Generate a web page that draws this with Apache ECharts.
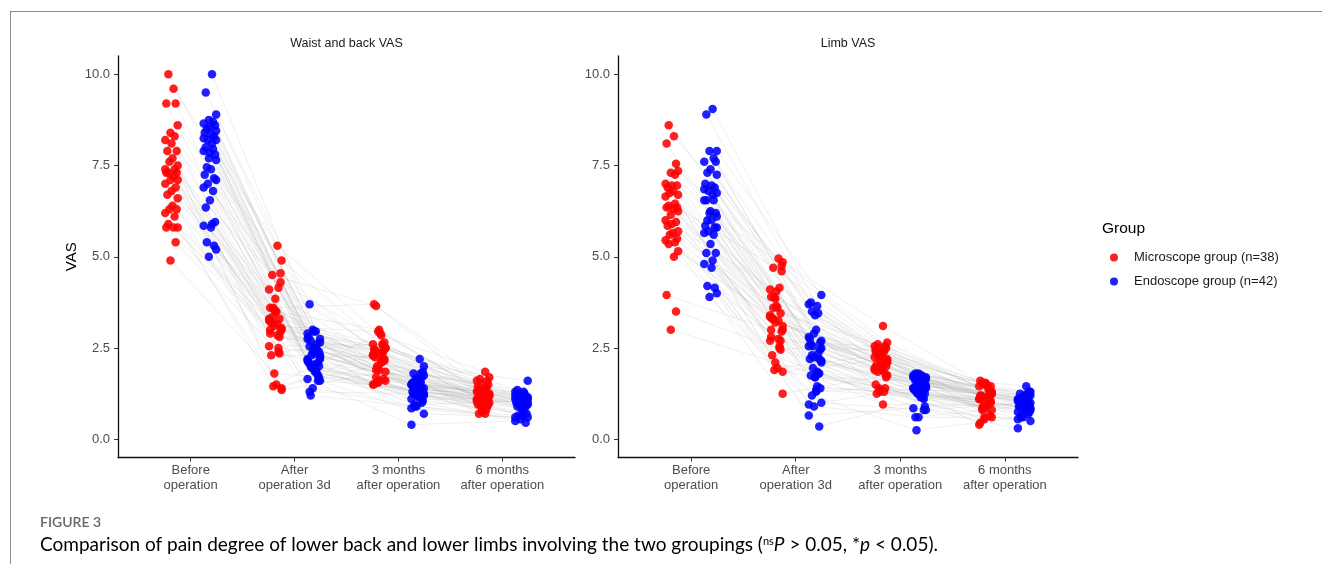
<!DOCTYPE html>
<html>
<head>
<meta charset="utf-8">
<script src="https://cdn.jsdelivr.net/npm/echarts@6/dist/echarts.min.js"></script>
<style>
html,body{margin:0;padding:0;background:#fff;}
#c{width:1322px;height:564px;position:absolute;left:0;top:0;}
#frame{position:absolute;left:10px;top:11px;right:0;bottom:0;border-left:1.5px solid #8a8a92;border-top:1.5px solid #8a8a92;pointer-events:none;}
</style>
</head>
<body>
<div id="c"></div>
<div id="frame"></div>
<script>
// ---------------- DATA ----------------
const categories = ['Before\noperation', 'After\noperation 3d', '3 months\nafter operation', '6 months\nafter operation'];
const yTickValues = [0, 2.5, 5, 7.5, 10];
const panelTitles = ['Waist and back VAS', 'Limb VAS'];
const groupNames = ['Microscope group (n=38)', 'Endoscope group (n=42)'];

// Waist and back VAS — Microscope group (subject order)
const backMicroBefore = [10.0, 9.6, 9.2, 9.2, 8.6, 8.4, 8.3, 8.2, 8.1, 7.9, 7.9, 7.7, 7.6, 7.5, 7.4, 7.4, 7.3, 7.3, 7.3, 7.2, 7.1, 7.1, 7.0, 6.9, 6.8, 6.7, 6.6, 6.4, 6.3, 6.3, 6.2, 6.1, 5.9, 5.8, 5.8, 5.8, 5.4, 4.9];
const backMicroAfter3d = [4.5, 5.3, 3.6, 3.3, 4.9, 3.1, 4.15, 2.55, 3.5, 4.55, 3.2, 1.5, 3.6, 3.0, 4.1, 2.4, 3.35, 4.3, 2.9, 3.15, 1.4, 3.55, 3.3, 2.8, 3.85, 2.3, 3.05, 3.5, 1.45, 2.95, 3.25, 2.5, 3.2, 1.35, 2.85, 3.0, 2.35, 1.8];
const backMicro3m = [3.65, 2.85, 3.7, 2.55, 2.5, 2.95, 2.4, 2.6, 3.0, 2.2, 2.45, 2.9, 1.95, 2.5, 2.3, 2.6, 1.7, 2.65, 2.45, 2.1, 2.5, 1.55, 2.3, 2.4, 1.9, 2.25, 1.6, 2.35, 2.0, 2.15, 1.5, 2.2, 1.9, 1.85, 2.1, 1.5, 1.65, 1.6];
const backMicro6m = [1.65, 1.85, 1.45, 1.6, 1.7, 1.35, 1.4, 1.6, 1.25, 1.5, 1.15, 1.3, 1.55, 1.2, 1.05, 1.4, 1.3, 0.95, 1.35, 1.1, 1.25, 0.8, 1.3, 1.0, 1.2, 0.7, 1.2, 1.05, 0.9, 1.1, 1.1, 0.8, 1.0, 1.0, 0.7, 0.95, 0.9, 0.75];

// Waist and back VAS — Endoscope group
const backEndoBefore = [10.0, 9.5, 8.9, 8.75, 8.7, 8.65, 8.6, 8.55, 8.5, 8.45, 8.4, 8.35, 8.3, 8.25, 8.2, 8.2, 8.1, 8.0, 7.95, 7.9, 7.85, 7.8, 7.7, 7.65, 7.45, 7.4, 7.25, 7.15, 7.1, 7.0, 6.9, 6.8, 6.55, 6.35, 5.95, 5.9, 5.85, 5.8, 5.4, 5.3, 5.2, 5.0];
const backEndoAfter3d = [2.95, 3.7, 2.75, 3.0, 2.6, 2.9, 2.4, 2.95, 2.7, 2.25, 2.8, 2.5, 2.1, 2.75, 2.3, 2.65, 1.9, 2.55, 2.45, 2.2, 2.5, 1.7, 2.4, 2.3, 2.0, 2.35, 2.1, 1.6, 2.2, 1.95, 2.15, 1.8, 2.05, 1.3, 2.0, 1.85, 1.65, 1.85, 1.2, 1.75, 1.6, 1.4];
const backEndo3m = [2.2, 1.8, 2.0, 1.6, 1.8, 1.5, 1.85, 1.65, 1.45, 1.75, 1.55, 1.35, 1.7, 1.5, 1.65, 1.25, 1.6, 1.4, 1.55, 1.1, 1.5, 1.3, 1.45, 1.4, 0.95, 1.45, 1.3, 1.4, 1.2, 1.35, 0.85, 1.3, 1.2, 1.25, 1.05, 1.2, 0.4, 1.15, 0.9, 1.0, 0.7, 0.9];
const backEndo6m = [1.3, 1.35, 1.6, 1.2, 1.25, 1.3, 1.15, 1.25, 1.25, 1.1, 1.15, 1.2, 1.0, 1.2, 1.1, 1.15, 0.95, 1.1, 1.05, 1.1, 0.85, 1.05, 1.0, 0.95, 1.05, 0.65, 1.0, 0.9, 1.0, 0.95, 0.6, 0.9, 0.85, 0.9, 0.7, 0.75, 0.5, 0.7, 0.65, 0.45, 0.6, 0.55];

// Limb VAS — Microscope group
const limbMicroBefore = [8.6, 8.3, 8.1, 7.55, 7.35, 7.3, 7.25, 7.0, 6.95, 6.95, 6.9, 6.8, 6.75, 6.7, 6.65, 6.45, 6.4, 6.35, 6.35, 6.3, 6.25, 6.15, 6.0, 5.95, 5.9, 5.85, 5.7, 5.65, 5.6, 5.5, 5.45, 5.4, 5.35, 5.15, 5.0, 3.95, 3.5, 3.0];
const limbMicroAfter3d = [4.7, 4.95, 3.9, 3.45, 4.85, 3.2, 4.15, 2.7, 3.65, 4.75, 3.3, 1.95, 3.9, 3.0, 4.1, 2.5, 3.6, 4.6, 2.8, 3.25, 1.85, 3.85, 3.4, 2.7, 4.05, 2.3, 3.1, 3.6, 1.9, 2.95, 3.35, 2.55, 3.3, 1.25, 2.75, 3.0, 2.45, 2.1];
const limbMicro3m = [2.6, 3.1, 2.45, 2.55, 2.65, 2.35, 2.4, 2.55, 2.2, 2.5, 2.05, 2.3, 2.5, 2.1, 1.9, 2.45, 2.3, 1.7, 2.4, 2.0, 2.2, 1.35, 2.25, 1.8, 2.1, 1.25, 2.15, 1.9, 1.4, 2.0, 1.95, 1.3, 1.85, 1.75, 0.95, 1.5, 1.4, 1.3];
const limbMicro6m = [1.55, 1.45, 1.6, 1.3, 1.25, 1.5, 1.15, 1.45, 1.55, 1.05, 1.2, 1.5, 0.9, 1.3, 1.1, 1.35, 0.8, 1.45, 1.2, 0.95, 1.25, 0.55, 1.1, 1.2, 0.85, 1.1, 0.6, 1.15, 0.9, 1.0, 0.4, 1.05, 0.85, 0.8, 0.95, 0.45, 0.65, 0.6];

// Limb VAS — Endoscope group
const limbEndoBefore = [9.05, 8.9, 7.9, 7.9, 7.7, 7.6, 7.6, 7.4, 7.3, 7.25, 7.0, 6.95, 6.9, 6.85, 6.8, 6.75, 6.7, 6.55, 6.55, 6.55, 6.25, 6.2, 6.2, 6.1, 6.0, 6.0, 5.85, 5.8, 5.8, 5.7, 5.65, 5.6, 5.35, 5.1, 5.1, 4.9, 4.8, 4.7, 4.2, 4.15, 4.0, 3.9];
const limbEndoAfter3d = [3.65, 3.75, 3.95, 2.9, 3.45, 3.7, 2.65, 3.4, 3.5, 2.5, 2.75, 3.0, 2.2, 2.8, 2.55, 2.7, 1.85, 2.6, 2.35, 2.55, 1.7, 2.45, 2.25, 2.1, 2.3, 1.3, 2.2, 1.8, 2.15, 1.95, 0.95, 1.8, 1.7, 1.75, 1.4, 1.45, 0.65, 1.35, 1.2, 0.35, 1.0, 0.9];
const limbEndo3m = [1.75, 1.8, 1.7, 1.8, 1.65, 1.75, 1.55, 1.75, 1.65, 1.45, 1.7, 1.6, 1.35, 1.7, 1.5, 1.65, 1.2, 1.6, 1.55, 1.4, 1.6, 0.9, 1.5, 1.45, 1.3, 1.5, 1.35, 0.8, 1.4, 1.25, 1.4, 1.15, 1.3, 0.6, 1.25, 1.2, 0.85, 1.15, 0.25, 1.1, 0.8, 0.6];
const limbEndo6m = [1.45, 1.25, 1.3, 1.15, 1.25, 1.1, 1.3, 1.2, 1.05, 1.2, 1.1, 0.95, 1.2, 1.05, 1.15, 0.85, 1.15, 1.0, 1.1, 0.75, 1.1, 0.95, 1.05, 1.0, 0.65, 1.0, 0.9, 1.0, 0.8, 0.95, 0.55, 0.9, 0.85, 0.9, 0.75, 0.85, 0.3, 0.8, 0.6, 0.7, 0.5, 0.6];

// horizontal jitter (category units) read from the point spread, one per subject
const jitterMicro = [-0.03, 0.02, -0.05, 0.04, 0.06, -0.01, 0.03, -0.06, 0.00, 0.05, -0.04, 0.01, -0.02, 0.06, -0.06, 0.03, -0.03, 0.05, -0.05, 0.02, 0.06, -0.01, -0.06, 0.04, 0.00, -0.04, 0.06, 0.01, -0.02, 0.05, -0.06, 0.03, -0.03, 0.06, 0.02, -0.05, 0.04, -0.01];
const jitterEndo = [0.02, -0.04, 0.06, -0.01, 0.03, -0.06, 0.05, 0.00, -0.03, 0.06, -0.05, 0.01, 0.04, -0.06, -0.02, 0.06, 0.02, -0.04, 0.03, -0.06, 0.00, 0.05, -0.01, 0.06, -0.03, 0.01, -0.05, 0.04, 0.06, -0.02, -0.06, 0.03, 0.00, -0.04, 0.05, 0.02, -0.06, 0.01, -0.03, 0.04, 0.06, -0.01];

// ---------------- CHART ----------------
const FONT = '"Liberation Sans", Arial, Helvetica, sans-serif';
const CAPFONT = 'Lato, "Open Sans", sans-serif';
const COLORS = ['#ff0000', '#0000ff'];
const DODGE = [-0.185, 0.185];
const GRIDS = [
  {left: 118, top: 56, width: 457, height: 401.5},
  {left: 618, top: 56, width: 460, height: 401.5}
];

const panels = [
  [[backMicroBefore, backMicroAfter3d, backMicro3m, backMicro6m], [backEndoBefore, backEndoAfter3d, backEndo3m, backEndo6m]],
  [[limbMicroBefore, limbMicroAfter3d, limbMicro3m, limbMicro6m], [limbEndoBefore, limbEndoAfter3d, limbEndo3m, limbEndo6m]]
];
const jitters = [jitterMicro, jitterEndo];

const series = [];
panels.forEach((groups, gi) => {
  groups.forEach((cols, g) => {
    const pts = [], paths = [];
    for (let i = 0; i < cols[0].length; i++) {
      const path = cols.map((col, k) => [k + 1 + DODGE[g] + jitters[g][i], col[i]]);
      paths.push({coords: path});
      path.forEach(p => pts.push(p));
    }
    series.push({
      type: 'lines', coordinateSystem: 'cartesian2d', polyline: true,
      xAxisIndex: gi, yAxisIndex: gi, silent: true, z: 1,
      lineStyle: {color: '#a0a0a0', opacity: 0.22, width: 0.8},
      data: paths
    });
    series.push({
      type: 'scatter', name: groupNames[g], xAxisIndex: gi, yAxisIndex: gi, z: 3,
      symbol: 'circle', symbolSize: 8.5,
      itemStyle: {color: COLORS[g], opacity: 0.88},
      data: pts
    });
  });
});

const axisTextColor = '#4d4d4d';
const option = {
  animation: false,
  backgroundColor: '#fff',
  textStyle: {fontFamily: FONT},
  grid: GRIDS.map(g => Object.assign({containLabel: false}, g)),
  xAxis: GRIDS.map((g, i) => ({
    type: 'value', gridIndex: i, min: 0.3, max: 4.7,
    splitLine: {show: false},
    axisLine: {show: true, onZero: false, lineStyle: {color: '#111', width: 1.3}},
    axisTick: {show: true, customValues: [1, 2, 3, 4], length: 4, lineStyle: {color: '#333', width: 1}},
    axisLabel: {show: true, customValues: [1, 2, 3, 4], formatter: v => categories[Math.round(v) - 1],
      color: axisTextColor, fontSize: 13, lineHeight: 15, margin: 5, fontFamily: FONT}
  })),
  yAxis: GRIDS.map((g, i) => ({
    type: 'value', gridIndex: i, min: -0.5, max: 10.5,
    name: i === 0 ? 'VAS' : '', nameLocation: 'middle', nameGap: 39, nameRotate: 90,
    nameTextStyle: {fontSize: 15, color: '#000', fontFamily: FONT},
    splitLine: {show: false},
    axisLine: {show: true, onZero: false, lineStyle: {color: '#111', width: 1.3}},
    axisTick: {show: true, customValues: yTickValues, length: 4, lineStyle: {color: '#333', width: 1}},
    axisLabel: {show: true, customValues: yTickValues, formatter: v => Number(v).toFixed(1),
      color: axisTextColor, fontSize: 13, margin: 8, fontFamily: FONT}
  })),
  legend: {
    data: groupNames, orient: 'vertical', left: 1105, top: 246,
    icon: 'circle', itemWidth: 26, itemHeight: 8, itemGap: 11,
    textStyle: {fontSize: 13, color: '#1a1a1a', fontFamily: FONT, padding: [0, 0, 0, 2]},
    selectedMode: false
  },
  graphic: [
    {type: 'text', x: 346.5, y: 44, style: {text: panelTitles[0], font: '12.5px ' + FONT, fill: '#1a1a1a', align: 'center', verticalAlign: 'middle'}},
    {type: 'text', x: 848, y: 44, style: {text: panelTitles[1], font: '12.5px ' + FONT, fill: '#1a1a1a', align: 'center', verticalAlign: 'middle'}},
    {type: 'text', x: 1102, y: 229, style: {text: 'Group', font: '15.5px ' + FONT, fill: '#000', align: 'left', verticalAlign: 'middle'}},
    {type: 'text', x: 40, y: 522, style: {text: 'FIGURE 3', font: '600 14px Lato, "Open Sans", sans-serif', fill: '#666', align: 'left', verticalAlign: 'middle'}},
    {type: 'text', x: 40, y: 545, style: {
      text: '{n|Comparison of pain degree of lower back and lower limbs involving the two groupings (}{s|ns}{i|P}{n| > 0.05, *}{i|p}{n| < 0.05).}',
      align: 'left', verticalAlign: 'middle',
      rich: {
        n: {fontFamily: CAPFONT, fontSize: 19, color: '#666'},
        i: {fontFamily: CAPFONT, fontSize: 19, fontStyle: 'italic', color: '#666'},
        s: {fontFamily: CAPFONT, fontSize: 11, color: '#666', verticalAlign: 'top', padding: [0, 0, 7, 0]}
      }
    }}
  ],
  series: series
};

const chart = echarts.init(document.getElementById('c'), null, {renderer: 'canvas'});
chart.setOption(option);
</script>
</body>
</html>
